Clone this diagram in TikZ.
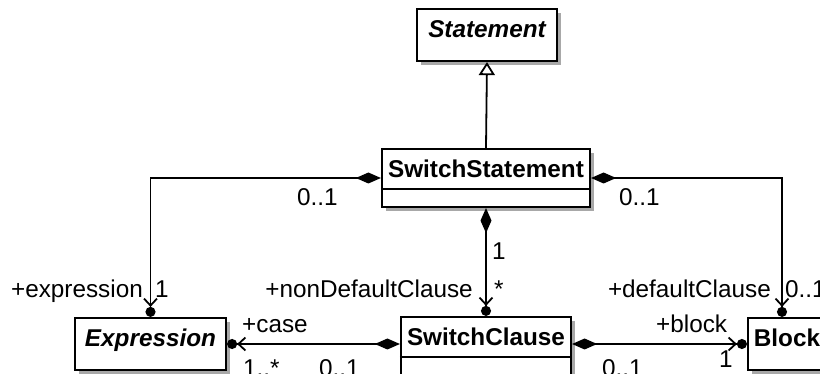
\documentclass[tikz,border=0pt]{standalone}
\usepackage{fontspec}
\setmainfont{Liberation Sans}
\usetikzlibrary{positioning,arrows.meta,shadows}
\definecolor{ink}{HTML}{000000}
\definecolor{shade}{HTML}{A8A8A8}

\begin{document}
\begin{tikzpicture}[
  x=1pt, y=-1pt,
  font=\fontsize{24.3}{29}\selectfont\color{ink},
  cls/.style={draw=ink, line width=2.2pt, fill=white, inner sep=0pt,
    drop shadow={shadow xshift=4pt, shadow yshift=-4pt, fill=shade, opacity=1}},
  cname/.style={font=\fontsize{24.3}{29}\selectfont\bfseries, inner sep=0pt,
    minimum height=41pt, text height=17.4pt, text depth=0pt},
  aname/.style={cname, font=\fontsize{24.3}{29}\selectfont\bfseries\itshape},
  divider/.style={draw=ink, line width=2.2pt},
  comp/.style={draw=ink, line width=1.8pt,
    {Diamond[length=25pt,width=11pt]}-{Straight Barb[length=7pt,width=13pt]Circle[length=10pt]}},
  gen/.style={draw=ink, line width=1.8pt, -{Triangle[open,length=13pt,width=16pt,fill=white]}},
  lab/.style={inner sep=0pt},
]
\useasboundingbox (0,0) rectangle (820,374);
\clip (0,0) rectangle (820,374);

% ---- Classes ----------------------------------------------------------------
\node[cls, minimum width=140pt, minimum height=52pt] (stmt) at (487,35) {};
\node[aname, below=0pt of stmt.north] (stmtn) {Statement};

\node[cls, minimum width=208pt, minimum height=58pt] (sws) at (486,178) {};
\node[cname, below=0pt of sws.north] (swsn) {SwitchStatement};
\draw[divider] (swsn.south -| sws.west) -- (swsn.south -| sws.east);

\node[cls, minimum width=151pt, minimum height=52pt] (expr) at (150.5,344) {};
\node[aname, below=0pt of expr.north] (exprn) {Expression};

\node[cls, minimum width=170pt, minimum height=58pt] (sc) at (486,346) {};
\node[cname, below=0pt of sc.north] (scn) {SwitchClause};
\draw[divider] (scn.south -| sc.west) -- (scn.south -| sc.east);

\node[cls, minimum width=78pt, minimum height=52pt] (blk) at (787,344) {};
\node[cname, below=0pt of blk.north] (blkn) {Block};

% ---- Associations -----------------------------------------------------------
\draw[gen] (sws.north) -- (stmt.south);
\draw[comp] (sws.west) -| (expr.north);
\draw[comp] (sws.east) -| ([xshift=-5pt]blk.north);
\draw[comp] (sws.south) -- (sc.north);
\draw[comp] (expr.east -| sc.west) -- (expr.east);
\draw[comp] (blk.west -| sc.east) -- (blk.west);

% ---- Role names and multiplicities ------------------------------------------
\node[lab, anchor=base west] (m1) at (297,206) {0..1};
\node[lab, anchor=base east] (r1) at (143,298) {+expression};
\node[lab, anchor=base west] (m2) at (155,298) {1};
\node[lab, anchor=base east] (r2) at (473,298) {+nonDefaultClause};
\node[lab, anchor=base west] (m3) at (492,260) {1};
\node[lab, anchor=base west] (m4) at (494,298) {*};
\node[lab, anchor=base west] (m5) at (619,206) {0..1};
\node[lab, anchor=base east] (r3) at (771,298) {+defaultClause};
\node[lab, anchor=base west] (m6) at (785,298) {0..1};
\node[lab, anchor=base west] (r4) at (242,333) {+case};
\node[lab, anchor=base west] (m7) at (243,376) {1..*};
\node[lab, anchor=base west] (m8) at (319,376) {0..1};
\node[lab, anchor=base west] (r5) at (656,333) {+block};
\node[lab, anchor=base west] (m9) at (602,376) {0..1};
\node[lab, anchor=base west] (m10) at (719,367) {1};

\end{tikzpicture}
\end{document}
